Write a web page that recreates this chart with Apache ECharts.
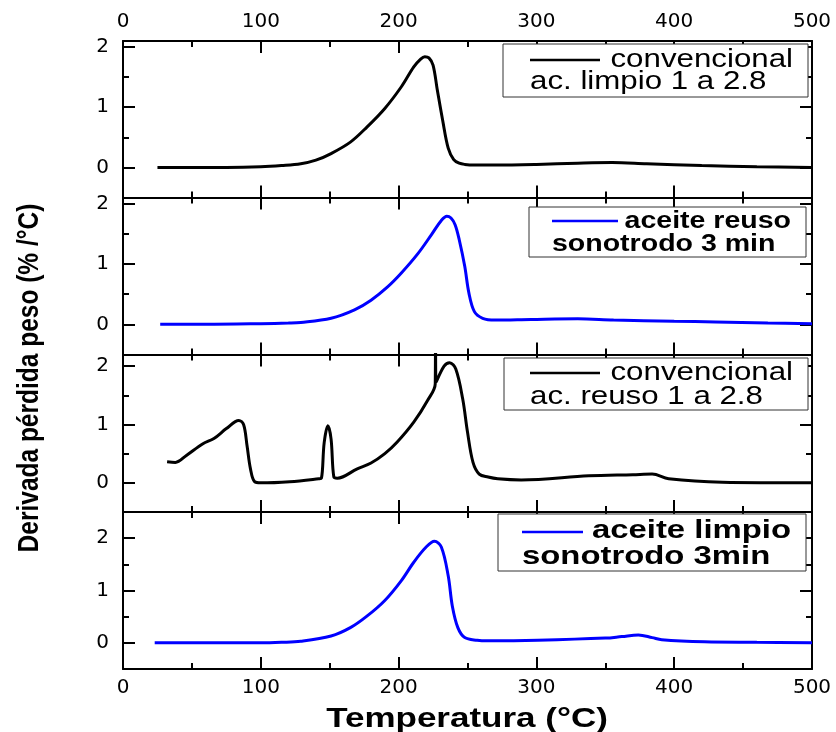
<!DOCTYPE html>
<html>
<head>
<meta charset="utf-8">
<script src="https://cdn.jsdelivr.net/npm/echarts@6/dist/echarts.min.js"></script>
<style>
  html, body { margin: 0; padding: 0; background: #fff; }
  #main { width: 836px; height: 732px; }
</style>
</head>
<body>
<div id="main"></div>
<script>
// curvas DTG (temperatura en °C, derivada en %/°C)
var T1 = [25, 50, 75, 100, 115, 129, 140, 151, 165, 177, 190, 202, 211, 216, 219, 222, 225, 228, 232, 236, 240, 244, 248, 255, 270, 300, 330, 355, 380, 420, 460, 500];
var Y1 = [0, 0, 0, 0.01, 0.03, 0.06, 0.12, 0.23, 0.42, 0.67, 0.98, 1.34, 1.67, 1.8, 1.84, 1.82, 1.7, 1.3, 0.78, 0.32, 0.13, 0.07, 0.05, 0.04, 0.04, 0.05, 0.07, 0.08, 0.06, 0.03, 0.01, 0];

var T2 = [27, 60, 100, 120, 129, 151, 168, 180, 192, 202, 214, 224, 231, 235, 238, 241, 244, 248, 251, 255, 261, 270, 296, 330, 356, 400, 430, 468, 500];
var Y2 = [0, 0, 0.01, 0.02, 0.03, 0.1, 0.24, 0.4, 0.62, 0.85, 1.17, 1.49, 1.72, 1.79, 1.76, 1.65, 1.4, 0.96, 0.52, 0.21, 0.1, 0.07, 0.08, 0.09, 0.07, 0.05, 0.04, 0.02, 0.01];

var T3 = [32, 38, 46, 58, 66, 75, 84, 87.5, 90, 92.5, 95.5, 100, 121, 142, 144, 146, 148.7, 151, 153, 155.5, 170, 180, 190, 199, 211, 221, 226.6, 226.8, 227.1, 233, 237, 241.5, 246.5, 250, 254, 258.5, 265, 272, 289, 338, 370, 384, 396, 435, 500];
var Y3 = [0.36, 0.35, 0.47, 0.67, 0.76, 0.93, 1.07, 1.0, 0.64, 0.24, 0.02, 0, 0.02, 0.07, 0.08, 0.69, 0.98, 0.75, 0.1, 0.08, 0.24, 0.34, 0.5, 0.7, 1.04, 1.41, 1.7, 2.6, 1.72, 2.0, 2.06, 1.95, 1.44, 0.87, 0.35, 0.15, 0.1, 0.07, 0.05, 0.12, 0.14, 0.15, 0.07, 0.01, 0];

var T4 = [23, 60, 100, 115, 129, 151, 165, 177, 190, 202, 211, 220, 226, 231, 236, 239, 243, 248, 257, 265, 301, 350, 362, 374, 384, 391, 422, 460, 500];
var Y4 = [0, 0, 0, 0.01, 0.03, 0.13, 0.29, 0.51, 0.81, 1.19, 1.54, 1.83, 1.94, 1.83, 1.28, 0.7, 0.29, 0.1, 0.05, 0.04, 0.05, 0.09, 0.12, 0.15, 0.1, 0.06, 0.02, 0.01, 0];

var nombres = ['convencional ac. limpio 1 a 2.8', 'aceite reuso sonotrodo 3 min', 'convencional ac. reuso 1 a 2.8', 'aceite limpio sonotrodo 3min'];
var colores = ['#000000', '#0000ff', '#000000', '#0000ff'];
var xTicks = [0, 100, 200, 300, 400, 500];
var yTicks = [0, 1, 2];
var yMinor = [0.5, 1.5];
var yMax = [2.1, 2.1, 2.2, 2.5];

function zip(t, y) {
  return t.map(function (v, i) { return [v, y[i]]; });
}
var curvas = [zip(T1, Y1), zip(T2, Y2), zip(T3, Y3), zip(T4, Y4)];

var myChart = echarts.init(document.getElementById('main'));

// posiciones de los 4 paneles apilados
var tops = [41, 197.5, 354.5, 512];
var alturas = [156.5, 157, 157.5, 157];
var negro = { color: '#000', width: 2 };
var fTick = 'DejaVu Sans';
var arial = '"Liberation Sans", Arial, sans-serif';

var grids = [], xAxes = [], yAxes = [], series = [];
for (var i = 0; i < 4; i++) {
  grids.push({ left: 123, right: 24, top: tops[i], height: alturas[i] });

  ['bottom', 'top'].forEach(function (pos) {
    xAxes.push({
      gridIndex: i, type: 'value', position: pos,
      min: xTicks[0], max: xTicks[xTicks.length - 1], interval: 100,
      axisLine: { show: true, onZero: false, lineStyle: negro },
      axisTick: { inside: true, length: 12, lineStyle: negro },
      minorTick: { show: true, splitNumber: 2, length: 6, lineStyle: negro },
      splitLine: { show: false },
      axisLabel: {
        show: (pos === 'bottom' && i === 3) || (pos === 'top' && i === 0),
        color: '#000', fontSize: 20, fontFamily: fTick, margin: 9
      }
    });
  });

  ['left', 'right'].forEach(function (pos) {
    // ticks mayores (con etiqueta a la izquierda)
    yAxes.push({
      gridIndex: i, type: 'value', position: pos, min: -0.5, max: yMax[i],
      axisLine: { show: true, onZero: false, lineStyle: negro },
      axisTick: { inside: true, length: 12, lineStyle: negro, customValues: yTicks },
      splitLine: { show: false },
      axisLabel: {
        show: pos === 'left', customValues: yTicks,
        color: '#000', fontSize: 20, fontFamily: fTick, margin: 14
      }
    });
    // ticks menores
    yAxes.push({
      gridIndex: i, type: 'value', position: pos, min: -0.5, max: yMax[i],
      axisLine: { show: false, onZero: false },
      axisTick: { inside: true, length: 6, lineStyle: negro, customValues: yMinor },
      splitLine: { show: false },
      axisLabel: { show: false }
    });
  });

  series.push({
    name: nombres[i], type: 'line',
    xAxisIndex: 2 * i, yAxisIndex: 4 * i,
    data: curvas[i],
    showSymbol: false, smooth: 0.35,
    lineStyle: { color: colores[i], width: 3 },
    itemStyle: { color: colores[i] }
  });
}

// leyendas en recuadro (dos lineas, muestra de linea solo en la primera)
function leyenda(caja, lin, t1, t2, y1, y2, font, sx, color) {
  return [
    { type: 'rect', shape: caja, style: { fill: '#fff', stroke: '#333', lineWidth: 1 }, z: 10 },
    { type: 'line', shape: lin, style: { stroke: color, lineWidth: 2.5 }, z: 11 },
    { type: 'text', x: caja.x + caja.width - 15, y: y1, z: 11, scaleX: sx,
      style: { text: t1, font: font, fill: '#000', align: 'right', verticalAlign: 'middle' } },
    { type: 'text', x: lin.x1, y: y2, z: 11, scaleX: sx,
      style: { text: t2, font: font, fill: '#000', align: 'left', verticalAlign: 'middle' } }
  ];
}

var graficos = []
  .concat(leyenda({ x: 503, y: 44, width: 305, height: 53 }, { x1: 530, y1: 60, x2: 600, y2: 60 },
    'convencional', 'ac. limpio 1 a 2.8', 60, 82, '26.5px ' + arial, 1.18, colores[0]))
  .concat(leyenda({ x: 529, y: 207, width: 277, height: 50 }, { x1: 552, y1: 221, x2: 618, y2: 221 },
    'aceite reuso', 'sonotrodo 3 min', 222, 245, 'bold 23px ' + arial, 1.24, colores[1]))
  .concat(leyenda({ x: 504, y: 358, width: 304, height: 52 }, { x1: 530, y1: 373, x2: 600, y2: 373 },
    'convencional', 'ac. reuso 1 a 2.8', 373, 397, '26.5px ' + arial, 1.18, colores[2]))
  .concat(leyenda({ x: 498, y: 514, width: 308, height: 57 }, { x1: 522, y1: 532, x2: 583, y2: 532 },
    'aceite limpio', 'sonotrodo 3min', 531, 557, 'bold 26.5px ' + arial, 1.24, colores[3]));

// titulos de los ejes
graficos.push({
  type: 'text', x: 30, y: 378, rotation: Math.PI / 2, scaleY: 1.2,
  style: {
    text: 'Derivada pérdida peso (% /°C)',
    font: 'bold 24.5px ' + arial,
    fill: '#000', align: 'center', verticalAlign: 'middle'
  }
});
graficos.push({
  type: 'text', x: 467, y: 719, scaleX: 1.25,
  style: {
    text: 'Temperatura (°C)',
    font: 'bold 28px ' + arial,
    fill: '#000', align: 'center', verticalAlign: 'middle'
  }
});

var option = {
  backgroundColor: '#ffffff',
  animation: false,
  grid: grids,
  xAxis: xAxes,
  yAxis: yAxes,
  series: series,
  graphic: graficos
};

myChart.setOption(option);
</script>
</body>
</html>
